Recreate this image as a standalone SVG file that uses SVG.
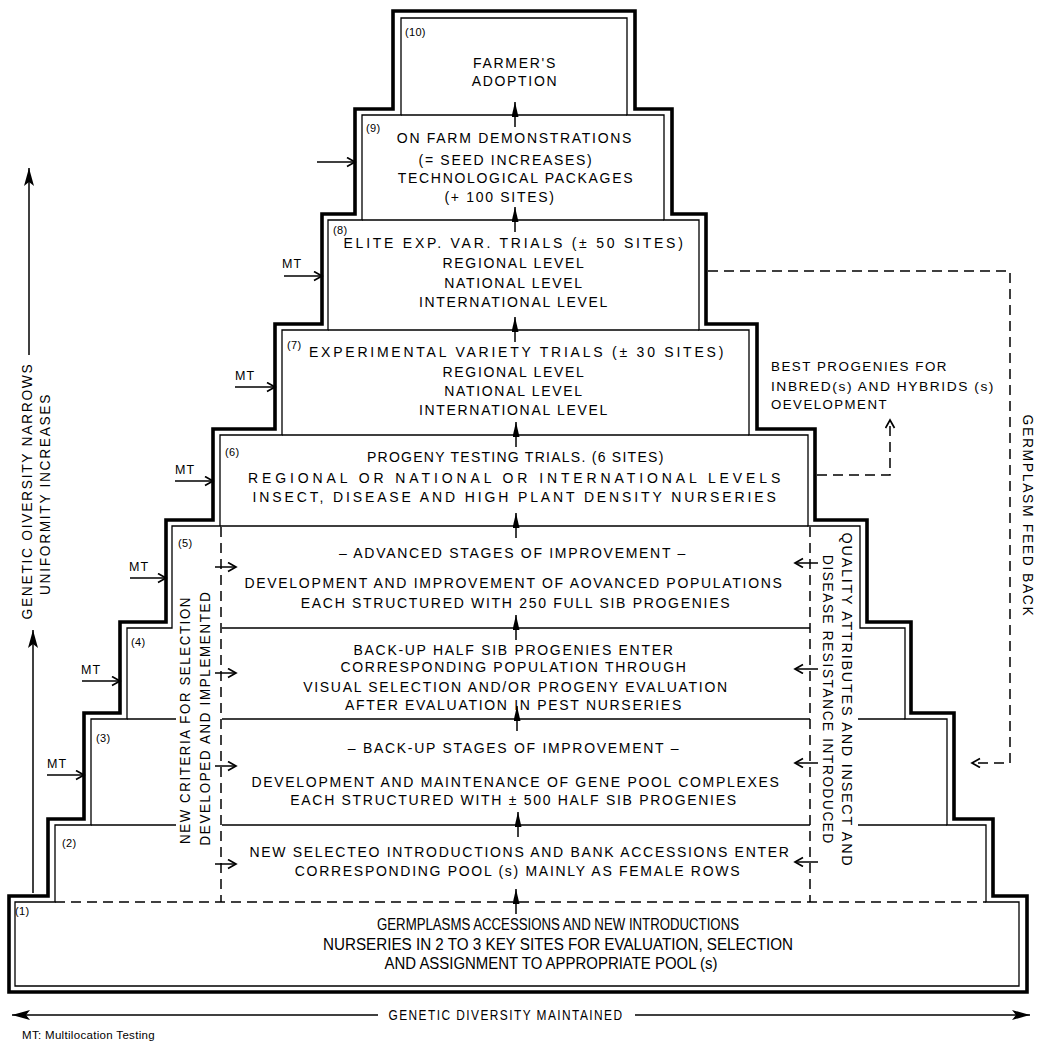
<svg xmlns="http://www.w3.org/2000/svg" width="1038" height="1042" viewBox="0 0 1038 1042">
<defs>
<style>
.thick{fill:none;stroke:#000;stroke-width:3.6;stroke-linejoin:miter}
.thin{fill:none;stroke:#000;stroke-width:1.3}
.dash{fill:none;stroke:#000;stroke-width:1.5;stroke-dasharray:10 6}
.ln{fill:none;stroke:#000;stroke-width:1.5}
.t{font-family:"Liberation Sans",Arial,sans-serif;font-size:14px;letter-spacing:1.7px;text-anchor:middle;fill:#000}
.s{font-family:"Liberation Sans",Arial,sans-serif;font-size:12.5px;letter-spacing:1.4px;fill:#000}
.lbl{font-family:"Liberation Sans",Arial,sans-serif;font-size:11px;letter-spacing:0.3px;fill:#000}
.mt{font-family:"Liberation Sans",Arial,sans-serif;font-size:12.5px;letter-spacing:1.2px;fill:#000}
.c{font-family:"Liberation Sans",Arial,sans-serif;font-size:16px;text-anchor:middle;fill:#000}
</style>
<marker id="open" markerUnits="userSpaceOnUse" markerWidth="12" markerHeight="12" refX="9" refY="5" orient="auto"><path d="M1,0.5 L9,5 L1,9.5" fill="none" stroke="#000" stroke-width="1.7"/></marker>
<marker id="fill" markerUnits="userSpaceOnUse" markerWidth="16" markerHeight="8" refX="15" refY="3.5" orient="auto"><path d="M0,0 L15,3.5 L0,7 Z" fill="#000"/></marker>
<marker id="big" markerUnits="userSpaceOnUse" markerWidth="20" markerHeight="12" refX="18" refY="5" orient="auto"><path d="M0,0 L18,5 L0,10 L4,5 Z" fill="#000"/></marker>
</defs>
<rect width="1038" height="1042" fill="#fff"/>

<g id="frame">
<path class="thick" d="M9,992 L9,896 L48,896 L48,819 L84,819 L84,713 L120,713 L120,622 L166,622 L166,520 L213,520 L213,429 L275,429 L275,324 L322,324 L322,214 L355,214 L355,109 L393,109 L393,11 L635,11 L635,109 L672,109 L672,214 L706,214 L706,324 L757,324 L757,429 L815,429 L815,520 L867,520 L867,622 L911,622 L911,713 L954,713 L954,819 L993,819 L993,896 L1027,896 L1027,992 Z"/>
<path class="thin" d="M15,986 L15,902 L55,902 L55,825 L91,825 L91,719 L127,719 L127,628 L172,628 L172,526 L220,526 L220,435 L282,435 L282,330 L328,330 L328,220 L362,220 L362,115 L401,115 L401,18 L627,18 L627,115 L664,115 L664,220 L699,220 L699,330 L749,330 L749,435 L808,435 L808,526 L860,526 L860,628 L905,628 L905,719 L947,719 L947,825 L986,825 L986,902 L1019,902 L1019,986 Z"/>
<path class="thin" d="M401,115 H627 M362,220 H664 M328,330 H699 M282,435 H749 M220,526 H808 M222,628 H810 M127,719 H176 M222,719 H810 M858,719 H905 M91,825 H176 M222,825 H810 M858,825 H947"/>
<path class="dash" d="M55,902 H986"/>
<path class="dash" d="M221,527 V902 M810,527 V902"/>
</g>

<g id="level10">
<text class="lbl" x="405" y="36">(10)</text>
<text class="t" x="515" y="68">FARMER'S</text>
<text class="t" x="515" y="86">ADOPTION</text>
</g>

<g id="level9">
<text class="lbl" x="366" y="132">(9)</text>
<text class="t" x="515" y="143">ON FARM DEMONSTRATIONS</text>
<text class="t" x="506" y="165">(= SEED INCREASES)</text>
<text class="t" x="516" y="183">TECHNOLOGICAL PACKAGES</text>
<text class="t" x="500" y="202">(+ 100 SITES)</text>
</g>

<g id="level8">
<text class="lbl" x="333" y="234">(8)</text>
<text class="t" x="514" y="248" textLength="341">ELITE EXP. VAR. TRIALS (± 50 SITES)</text>
<text class="t" x="514" y="268">REGIONAL LEVEL</text>
<text class="t" x="514" y="288">NATIONAL LEVEL</text>
<text class="t" x="514" y="307">INTERNATIONAL LEVEL</text>
</g>

<g id="level7">
<text class="lbl" x="287" y="349">(7)</text>
<text class="t" x="517" y="357" textLength="416">EXPERIMENTAL VARIETY TRIALS (± 30 SITES)</text>
<text class="t" x="514" y="377">REGIONAL LEVEL</text>
<text class="t" x="514" y="396">NATIONAL LEVEL</text>
<text class="t" x="514" y="415">INTERNATIONAL LEVEL</text>
</g>

<g id="level6">
<text class="lbl" x="225" y="456">(6)</text>
<text class="t" x="516" y="462" textLength="298">PROGENY TESTING TRIALS. (6 SITES)</text>
<text class="t" x="515" y="483" textLength="534">REGIONAL OR NATIONAL OR INTERNATIONAL LEVELS</text>
<text class="t" x="515" y="502" textLength="525">INSECT, DISEASE AND HIGH PLANT DENSITY NURSERIES</text>
</g>

<g id="level5">
<text class="lbl" x="178" y="547">(5)</text>
<text class="t" x="513" y="558">– ADVANCED STAGES OF IMPROVEMENT –</text>
<text class="t" x="514" y="588">DEVELOPMENT AND IMPROVEMENT OF AOVANCED POPULATIONS</text>
<text class="t" x="516" y="608">EACH STRUCTURED WITH 250 FULL SIB PROGENIES</text>
</g>

<g id="level4">
<text class="lbl" x="131" y="646">(4)</text>
<text class="t" x="514" y="655">BACK-UP HALF SIB PROGENIES ENTER</text>
<text class="t" x="514" y="672">CORRESPONDING POPULATION THROUGH</text>
<text class="t" x="516" y="692">VISUAL SELECTION AND/OR PROGENY EVALUATION</text>
<text class="t" x="514" y="710">AFTER EVALUATION IN PEST NURSERIES</text>
</g>

<g id="level3">
<text class="lbl" x="96" y="742">(3)</text>
<text class="t" x="514" y="753">– BACK-UP STAGES OF IMPROVEMENT –</text>
<text class="t" x="516" y="787">DEVELOPMENT AND MAINTENANCE OF GENE POOL COMPLEXES</text>
<text class="t" x="514" y="805">EACH STRUCTURED WITH ± 500 HALF SIB PROGENIES</text>
</g>

<g id="level2">
<text class="lbl" x="62" y="847">(2)</text>
<text class="t" x="520" y="857">NEW SELECTEO INTRODUCTIONS AND BANK ACCESSIONS ENTER</text>
<text class="t" x="518" y="876">CORRESPONDING POOL (s) MAINLY AS FEMALE ROWS</text>
</g>

<g id="level1">
<text class="lbl" x="15" y="915">(1)</text>
<text class="c" x="558" y="930" textLength="362" lengthAdjust="spacingAndGlyphs">GERMPLASMS ACCESSIONS AND NEW INTRODUCTIONS</text>
<text class="c" x="558" y="950" textLength="470" lengthAdjust="spacingAndGlyphs">NURSERIES IN 2 TO 3 KEY SITES FOR EVALUATION, SELECTION</text>
<text class="c" x="551" y="969" textLength="333" lengthAdjust="spacingAndGlyphs">AND ASSIGNMENT TO APPROPRIATE POOL (s)</text>
</g>

<g id="side-criteria">
<text class="t" transform="translate(190,720) rotate(-90)" textLength="248" lengthAdjust="spacingAndGlyphs">NEW CRITERIA FOR SELECTION</text>
<text class="t" transform="translate(210,718) rotate(-90)" textLength="255" lengthAdjust="spacingAndGlyphs">DEVELOPED AND IMPLEMENTED</text>
</g>

<g id="side-quality">
<text class="t" transform="translate(842,700) rotate(90)" textLength="335" lengthAdjust="spacingAndGlyphs">QUALITY ATTRIBUTES AND INSECT AND</text>
<text class="t" transform="translate(823,700) rotate(90)" textLength="290" lengthAdjust="spacingAndGlyphs">DISEASE RESISTANCE INTRODUCED</text>
</g>

<g id="diversity-narrows">
<text class="t" transform="translate(32,491) rotate(-90)" textLength="257" lengthAdjust="spacingAndGlyphs">GENETIC OIVERSITY NARROWS</text>
<text class="t" transform="translate(50,494) rotate(-90)" textLength="202" lengthAdjust="spacingAndGlyphs">UNIFORMITY INCREASES</text>
</g>

<g id="best-progenies">
<text class="s" x="771" y="371" textLength="177" lengthAdjust="spacingAndGlyphs">BEST PROGENIES FOR</text>
<text class="s" x="771" y="391" textLength="224" lengthAdjust="spacingAndGlyphs">INBRED(s) AND HYBRIDS (s)</text>
<text class="s" x="771" y="409" textLength="117" lengthAdjust="spacingAndGlyphs">OEVELOPMENT</text>
</g>

<g id="feedback-label">
<text class="t" transform="translate(1023,516) rotate(90)" textLength="203" lengthAdjust="spacingAndGlyphs">GERMPLASM FEED BACK</text>
</g>

<g id="diversity-maintained">
<text class="t" x="506" y="1020" textLength="235" lengthAdjust="spacingAndGlyphs">GENETIC DIVERSITY MAINTAINED</text>
</g>

<g id="legend">
<text class="lbl" x="22" y="1039" textLength="133" lengthAdjust="spacingAndGlyphs">MT: Multilocation Testing</text>
</g>

<g id="mt-labels">
<text class="mt" x="282" y="268">MT</text>
<text class="mt" x="235" y="380">MT</text>
<text class="mt" x="175" y="474">MT</text>
<text class="mt" x="129" y="571">MT</text>
<text class="mt" x="81" y="674">MT</text>
<text class="mt" x="47" y="768">MT</text>
</g>

<g id="connectors">
<line class="ln" x1="317" y1="162" x2="355" y2="162" marker-end="url(#open)"/>
<line class="ln" x1="284" y1="276" x2="322" y2="276" marker-end="url(#open)"/>
<line class="ln" x1="235" y1="387" x2="275" y2="387" marker-end="url(#open)"/>
<line class="ln" x1="175" y1="481" x2="213" y2="481" marker-end="url(#open)"/>
<line class="ln" x1="130" y1="578" x2="166" y2="578" marker-end="url(#open)"/>
<line class="ln" x1="82" y1="681" x2="120" y2="681" marker-end="url(#open)"/>
<line class="ln" x1="47" y1="775" x2="84" y2="775" marker-end="url(#open)"/>

<line class="ln" x1="515" y1="127" x2="515" y2="102" marker-end="url(#fill)"/>
<line class="ln" x1="515" y1="232" x2="515" y2="207" marker-end="url(#fill)"/>
<line class="ln" x1="515" y1="342" x2="515" y2="317" marker-end="url(#fill)"/>
<line class="ln" x1="516" y1="447" x2="516" y2="422" marker-end="url(#fill)"/>
<line class="ln" x1="516" y1="538" x2="516" y2="513" marker-end="url(#fill)"/>
<line class="ln" x1="516" y1="640" x2="516" y2="615" marker-end="url(#fill)"/>
<line class="ln" x1="517" y1="731" x2="517" y2="706" marker-end="url(#fill)"/>
<line class="ln" x1="518" y1="837" x2="518" y2="812" marker-end="url(#fill)"/>
<line class="ln" x1="516" y1="914" x2="516" y2="889" marker-end="url(#fill)"/>

<line class="ln" x1="215" y1="567" x2="236" y2="567" marker-end="url(#open)"/>
<line class="ln" x1="215" y1="673" x2="236" y2="673" marker-end="url(#open)"/>
<line class="ln" x1="215" y1="766" x2="236" y2="766" marker-end="url(#open)"/>
<line class="ln" x1="215" y1="864" x2="236" y2="864" marker-end="url(#open)"/>
<line class="ln" x1="818" y1="563" x2="795" y2="563" marker-end="url(#open)"/>
<line class="ln" x1="818" y1="669" x2="795" y2="669" marker-end="url(#open)"/>
<line class="ln" x1="818" y1="763" x2="795" y2="763" marker-end="url(#open)"/>
<line class="ln" x1="818" y1="862" x2="795" y2="862" marker-end="url(#open)"/>

<path class="dash" d="M817,475 H890 V420" marker-end="url(#open)"/>
<path class="dash" d="M708,271 H1010 V763 H972" marker-end="url(#open)"/>

<line class="ln" x1="29" y1="355" x2="29" y2="168" marker-end="url(#big)"/>
<line class="ln" x1="33" y1="893" x2="33" y2="630" marker-end="url(#big)"/>
<line class="ln" x1="378" y1="1015" x2="12" y2="1015" marker-end="url(#big)"/>
<line class="ln" x1="635" y1="1015" x2="1030" y2="1015" marker-end="url(#big)"/>
</g>
</svg>
